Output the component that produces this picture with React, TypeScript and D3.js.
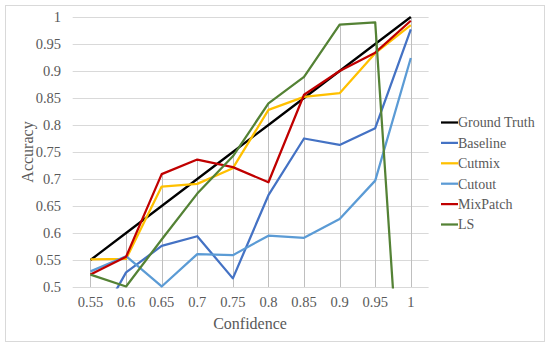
import React from "react";
import * as d3 from "d3";

const categories = ["0.55", "0.6", "0.65", "0.7", "0.75", "0.8", "0.85", "0.9", "0.95", "1"];
const groundTruth = [0.55, 0.6, 0.65, 0.7, 0.75, 0.8, 0.85, 0.9, 0.95, 1.0];
const baseline = [0.41, 0.527, 0.576, 0.594, 0.516, 0.67, 0.775, 0.763, 0.794, 0.977];
const cutmix = [0.551, 0.552, 0.686, 0.691, 0.72, 0.828, 0.852, 0.859, 0.933, 0.985];
const cutout = [0.529, 0.557, 0.501, 0.561, 0.559, 0.595, 0.591, 0.626, 0.697, 0.924];
const mixPatch = [0.523, 0.556, 0.709, 0.736, 0.722, 0.694, 0.856, 0.9, 0.934, 0.993];
const ls = [0.523, 0.501, 0.588, 0.673, 0.742, 0.84, 0.889, 0.986, 0.99, 0.0];
const yTicks = [0.5, 0.55, 0.6, 0.65, 0.7, 0.75, 0.8, 0.85, 0.9, 0.95, 1];
const yTickLabels = ["0.5", "0.55", "0.6", "0.65", "0.7", "0.75", "0.8", "0.85", "0.9", "0.95", "1"];

const seriesNames = ["Ground Truth", "Baseline", "Cutmix", "Cutout", "MixPatch", "LS"];
const seriesValues = [groundTruth, baseline, cutmix, cutout, mixPatch, ls];
const seriesColors = ["#000000", "#4472C4", "#FFC000", "#5B9BD5", "#C00000", "#548235"];

const W = 550;
const H = 347;
const plotLeft = 72.7;
const plotRight = 428.6;
const plotTop = 17;
const plotBottom = 287;

export default function App() {
  const x = d3.scalePoint<string>().domain(categories).range([plotLeft, plotRight]).padding(0.5);
  const y = d3.scaleLinear().domain([0.5, 1]).range([plotBottom, plotTop]);
  const line = d3
    .line<number>()
    .x((_, i) => x(categories[i]) as number)
    .y((d) => y(d));

  const font = "'Liberation Serif', 'Times New Roman', serif";
  const textColor = "#595959";
  const gridColor = "#D9D9D9";

  return (
    <svg
      width={W}
      height={H}
      style={{ position: "absolute", left: 0, top: 0, background: "#fff" }}
      fontFamily={font}
    >
      <rect x={0} y={0} width={W} height={H} fill="#fff" />
      <rect x={5.5} y={5.5} width={539} height={336} fill="#fff" stroke={gridColor} strokeWidth={1} />
      <defs>
        <clipPath id="plotClip">
          <rect x={plotLeft} y={plotTop - 2} width={plotRight - plotLeft + 2} height={plotBottom - plotTop + 3.5} />
        </clipPath>
      </defs>
      {/* horizontal gridlines */}
      {yTicks.map((t) => (
        <line
          key={"g" + t}
          x1={plotLeft}
          x2={plotRight}
          y1={Math.round(y(t)) + 0.5}
          y2={Math.round(y(t)) + 0.5}
          stroke={gridColor}
          strokeWidth={1}
        />
      ))}
      {/* drop lines */}
      {categories.map((c, i) => {
        const maxV = Math.min(1, d3.max(seriesValues, (s) => s[i]) as number);
        const xx = Math.round(x(c) as number) + 0.5;
        return (
          <line key={"d" + c} x1={xx} x2={xx} y1={y(maxV)} y2={plotBottom} stroke="#BFBFBF" strokeWidth={1} />
        );
      })}
      {/* y tick labels */}
      {yTicks.map((t, i) => (
        <text
          key={"yl" + t}
          x={61}
          y={y(t)}
          dy="0.35em"
          textAnchor="end"
          fontSize={14.5}
          fill={textColor}
        >
          {yTickLabels[i]}
        </text>
      ))}
      {/* x tick labels */}
      {categories.map((c) => (
        <text key={"xl" + c} x={x(c) as number} y={307} textAnchor="middle" fontSize={14.5} fill={textColor}>
          {c}
        </text>
      ))}
      {/* series */}
      <g clipPath="url(#plotClip)">
        {seriesValues.map((s, i) => (
          <path
            key={seriesNames[i]}
            d={line(s) as string}
            fill="none"
            stroke={seriesColors[i]}
            strokeWidth={2.25}
            strokeLinejoin="round"
          />
        ))}
      </g>
      {/* axis titles */}
      <text x={250} y={329} textAnchor="middle" fontSize={16} fill={textColor}>
        Confidence
      </text>
      <text
        transform={`translate(33,${(plotTop + plotBottom) / 2}) rotate(-90)`}
        textAnchor="middle"
        fontSize={16}
        fill={textColor}
      >
        Accuracy
      </text>
      {/* legend */}
      {seriesNames.map((n, i) => {
        const ly = 122.5 + i * 20.4;
        return (
          <g key={"lg" + n}>
            <line x1={441} x2={458} y1={ly} y2={ly} stroke={seriesColors[i]} strokeWidth={2.25} />
            <text x={458} y={ly} dy="0.35em" fontSize={14} fill={textColor}>
              {n}
            </text>
          </g>
        );
      })}
    </svg>
  );
}
